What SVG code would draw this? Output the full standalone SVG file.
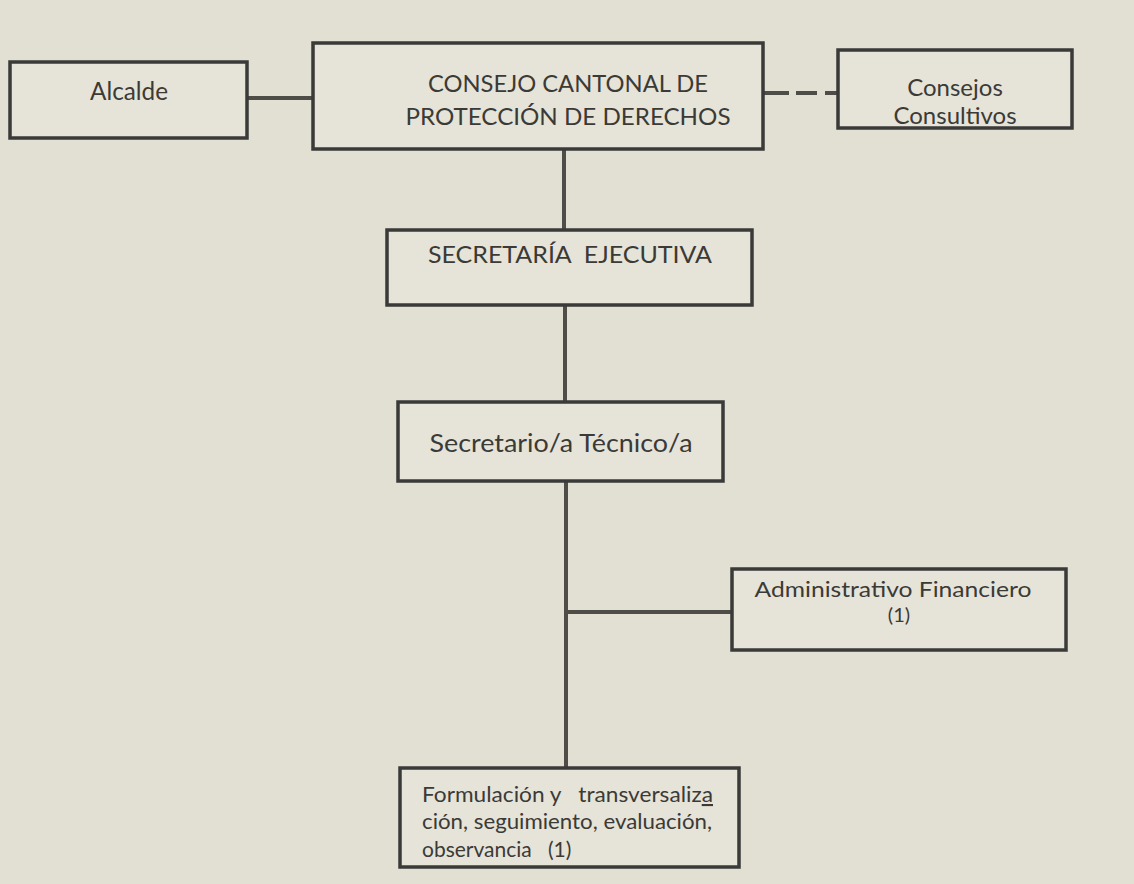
<svg xmlns="http://www.w3.org/2000/svg" width="1134" height="884" viewBox="0 0 1134 884">
<style>
.box{fill:#e6e3d8;stroke:#3a3a38;stroke-width:3.5}
.t{font-family:Lato,"Open Sans","Liberation Sans",sans-serif;fill:#3b3a36}
.c{stroke:#4e4d48;stroke-width:4;fill:none}
</style>
<rect width="1134" height="884" fill="#e2dfd3"/>
<g id="connectors">
<line class="c" x1="247" y1="98" x2="313" y2="98"/>
<line class="c" x1="763" y1="93" x2="838" y2="93" stroke-dasharray="26,7,21,8,13"/>
<line class="c" x1="564" y1="149" x2="564" y2="230"/>
<line class="c" x1="565" y1="305" x2="565" y2="402"/>
<line class="c" x1="566" y1="481" x2="566" y2="768"/>
<line class="c" x1="566" y1="612" x2="732" y2="612"/>
</g>
<g id="alcalde">
<rect class="box" x="10" y="62" width="237" height="76"/>
<text class="t" x="129" y="100" font-size="25" text-anchor="middle" textLength="78" lengthAdjust="spacingAndGlyphs">Alcalde</text>
</g>
<g id="consejo">
<rect class="box" x="313" y="43" width="450" height="106"/>
<text class="t" x="568" y="92" font-size="24" text-anchor="middle" textLength="280" lengthAdjust="spacingAndGlyphs">CONSEJO CANTONAL DE</text>
<text class="t" x="568" y="125" font-size="24" text-anchor="middle" textLength="325" lengthAdjust="spacingAndGlyphs">PROTECCIÓN DE DERECHOS</text>
</g>
<g id="consultivos">
<rect class="box" x="838" y="50" width="234" height="78"/>
<text class="t" x="955" y="96" font-size="24" text-anchor="middle">Consejos</text>
<text class="t" x="955" y="124" font-size="24" text-anchor="middle">Consultivos</text>
</g>
<g id="secretaria">
<rect class="box" x="387" y="230" width="365" height="75"/>
<text class="t" x="570" y="263" font-size="24" text-anchor="middle" textLength="284" lengthAdjust="spacingAndGlyphs" xml:space="preserve">SECRETARÍA  EJECUTIVA</text>
</g>
<g id="tecnico">
<rect class="box" x="398" y="402" width="325" height="79"/>
<text class="t" x="561" y="452" font-size="25" text-anchor="middle" textLength="263" lengthAdjust="spacingAndGlyphs">Secretario/a Técnico/a</text>
</g>
<g id="administrativo">
<rect class="box" x="732" y="569" width="334" height="81"/>
<text class="t" x="893" y="597" font-size="21" text-anchor="middle" textLength="277" lengthAdjust="spacingAndGlyphs">Administrativo Financiero</text>
<text class="t" x="899" y="622" font-size="20" text-anchor="middle">(1)</text>
</g>
<g id="formulacion">
<rect class="box" x="400" y="768" width="339" height="99"/>
<text class="t" x="422" y="802" font-size="21" textLength="291" lengthAdjust="spacingAndGlyphs" xml:space="preserve">Formulación y   transversaliz<tspan text-decoration="underline">a</tspan></text>
<text class="t" x="422" y="829" font-size="21" textLength="290" lengthAdjust="spacingAndGlyphs">ción, seguimiento, evaluación,</text>
<text class="t" x="422" y="857" font-size="21" xml:space="preserve">observancia   (1)</text>
</g>
</svg>
